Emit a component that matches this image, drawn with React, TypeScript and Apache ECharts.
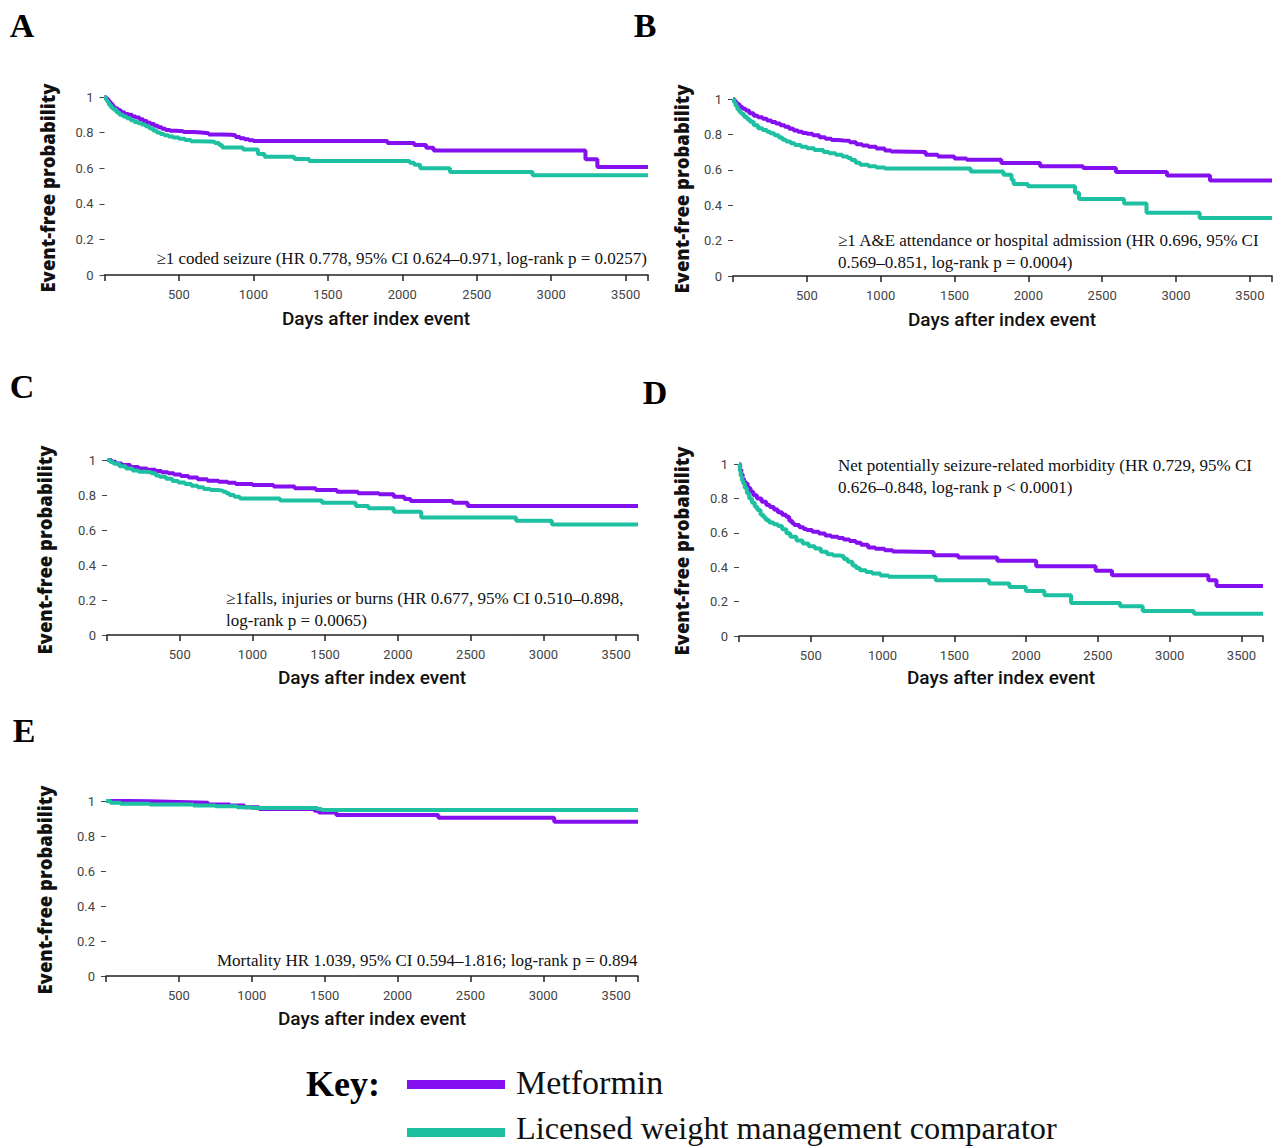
import React, { useEffect, useRef } from "react";
import * as echarts from "echarts";

const DAYS_MAX = 3650;
const X_TICKS = [0, 500, 1000, 1500, 2000, 2500, 3000, 3500, 3650];
const X_LABELS = [500, 1000, 1500, 2000, 2500, 3000, 3500];
const Y_TICKS = [0, 0.2, 0.4, 0.6, 0.8, 1];

const SERIES_NAMES = ["Metformin", "Licensed weight management comparator"];
const COLORS = ["#8410f0", "#1ec0a2"];

// Panel A: >=1 coded seizure
const A_MET = [[0,1],[10,0.99],[25,0.975],[40,0.96],[55,0.945],[70,0.935],[90,0.925],[110,0.915],[135,0.905],[160,0.9],[185,0.89],[210,0.885],[235,0.875],[260,0.865],[285,0.855],[310,0.848],[335,0.838],[360,0.83],[385,0.822],[410,0.815],[440,0.81],[480,0.807],[530,0.803],[600,0.8],[650,0.797],[700,0.79],[780,0.788],[850,0.785],[880,0.775],[910,0.768],[940,0.762],[970,0.757],[1000,0.753],[1900,0.742],[2080,0.73],[2160,0.715],[2210,0.7],[3230,0.65],[3310,0.607],[3650,0.607]];
const A_CMP = [[0,1],[10,0.985],[20,0.97],[30,0.955],[45,0.94],[60,0.93],[80,0.915],[100,0.9],[125,0.89],[150,0.88],[175,0.87],[200,0.86],[225,0.852],[250,0.845],[275,0.835],[300,0.825],[325,0.812],[350,0.8],[375,0.792],[400,0.785],[430,0.778],[460,0.772],[500,0.765],[540,0.758],[580,0.752],[620,0.75],[700,0.748],[740,0.742],[770,0.73],[790,0.716],[930,0.705],[1030,0.68],[1075,0.664],[1275,0.652],[1375,0.64],[2050,0.63],[2080,0.62],[2120,0.6],[2320,0.578],[2875,0.561],[3650,0.561]];

// Panel B: >=1 A&E attendance or hospital admission
const B_MET = [[0,1],[10,0.985],[25,0.97],[45,0.955],[65,0.945],[86,0.935],[110,0.92],[140,0.905],[169,0.897],[200,0.888],[230,0.878],[260,0.87],[290,0.862],[320,0.852],[350,0.843],[380,0.832],[410,0.822],[440,0.815],[470,0.808],[501,0.803],[540,0.795],[584,0.784],[625,0.776],[667,0.769],[710,0.766],[750,0.764],[790,0.755],[834,0.745],[875,0.737],[917,0.73],[970,0.72],[1028,0.709],[1070,0.703],[1111,0.7],[1305,0.685],[1388,0.675],[1499,0.664],[1582,0.657],[1817,0.638],[2080,0.62],[2371,0.61],[2593,0.587],[2939,0.568],[3230,0.54],[3650,0.54]];
const B_CMP = [[0,1],[8,0.98],[18,0.96],[30,0.94],[45,0.925],[58,0.915],[75,0.9],[95,0.885],[114,0.872],[140,0.852],[169,0.835],[200,0.825],[230,0.815],[252,0.807],[280,0.795],[310,0.782],[335,0.77],[360,0.76],[390,0.75],[418,0.74],[460,0.73],[501,0.722],[550,0.712],[612,0.7],[650,0.693],[695,0.685],[740,0.675],[778,0.666],[800,0.655],[830,0.64],[861,0.628],[917,0.62],[970,0.613],[1028,0.608],[1609,0.591],[1831,0.572],[1886,0.544],[1900,0.52],[1997,0.507],[2316,0.47],[2343,0.435],[2648,0.409],[2800,0.357],[3160,0.328],[3650,0.328]];

// Panel C: >=1 falls, injuries or burns
const C_MET = [[0,1],[30,0.99],[60,0.98],[101,0.971],[160,0.96],[217,0.952],[275,0.945],[333,0.937],[375,0.93],[420,0.924],[460,0.917],[507,0.909],[560,0.9],[623,0.89],[690,0.882],[768,0.876],[830,0.87],[884,0.863],[1000,0.857],[1145,0.848],[1290,0.838],[1435,0.829],[1580,0.819],[1725,0.81],[1870,0.804],[1971,0.79],[2044,0.777],[2087,0.766],[2377,0.756],[2479,0.737],[3650,0.737]];
const C_CMP = [[0,1],[20,0.99],[43,0.98],[85,0.965],[130,0.952],[175,0.94],[217,0.933],[260,0.93],[304,0.924],[335,0.912],[362,0.905],[405,0.893],[449,0.88],[490,0.872],[536,0.863],[580,0.853],[623,0.844],[665,0.835],[710,0.829],[760,0.825],[797,0.819],[820,0.81],[841,0.8],[875,0.79],[913,0.78],[1189,0.768],[1478,0.756],[1710,0.737],[1797,0.724],[1971,0.705],[2160,0.672],[2812,0.653],[3058,0.632],[3650,0.632]];

// Panel D: net potentially seizure-related morbidity
const D_MET = [[0,1],[8,0.97],[16,0.94],[25,0.915],[34,0.9],[43,0.887],[60,0.86],[80,0.838],[100,0.819],[125,0.8],[157,0.78],[190,0.762],[215,0.75],[243,0.736],[270,0.72],[300,0.705],[328,0.693],[350,0.67],[370,0.655],[385,0.645],[420,0.632],[450,0.622],[471,0.616],[510,0.606],[557,0.596],[600,0.585],[642,0.577],[690,0.57],[728,0.561],[770,0.552],[814,0.542],[850,0.53],[899,0.515],[950,0.507],[1014,0.499],[1070,0.492],[1128,0.489],[1356,0.47],[1527,0.456],[1799,0.437],[2070,0.406],[2484,0.379],[2598,0.353],[3269,0.324],[3326,0.291],[3650,0.291]];
const D_CMP = [[0,1],[6,0.96],[12,0.93],[20,0.905],[29,0.887],[40,0.86],[55,0.83],[71,0.8],[90,0.775],[110,0.752],[128,0.732],[150,0.705],[170,0.69],[186,0.674],[210,0.66],[240,0.65],[271,0.639],[300,0.62],[330,0.598],[357,0.577],[400,0.555],[443,0.538],[485,0.522],[528,0.509],[570,0.49],[614,0.476],[655,0.468],[700,0.464],[730,0.448],[757,0.431],[790,0.41],[815,0.395],[842,0.382],[885,0.372],[928,0.363],[985,0.352],[1042,0.344],[1370,0.324],[1742,0.305],[1884,0.285],[1998,0.262],[2127,0.237],[2313,0.192],[2655,0.173],[2812,0.146],[3169,0.13],[3650,0.13]];

// Panel E: mortality
const E_MET = [[0,1],[150,0.998],[300,0.994],[500,0.99],[700,0.98],[850,0.975],[950,0.965],[1050,0.955],[1430,0.945],[1460,0.935],[1580,0.92],[2280,0.905],[3075,0.882],[3650,0.882]];
const E_CMP = [[0,1],[30,0.99],[100,0.985],[300,0.98],[600,0.975],[750,0.97],[900,0.965],[1000,0.96],[1450,0.955],[1480,0.948],[3650,0.948]];

const PANEL_DATA = [[A_MET, A_CMP], [B_MET, B_CMP], [C_MET, C_CMP], [D_MET, D_CMP], [E_MET, E_CMP]];
const PANEL_LETTERS = ["A", "B", "C", "D", "E"];

const ANNOTATIONS = [
  ["\u22651 coded seizure (HR 0.778, 95% CI 0.624\u20130.971, log-rank p = 0.0257)"],
  ["\u22651 A&E attendance or hospital admission (HR 0.696, 95% CI", "0.569\u20130.851, log-rank p = 0.0004)"],
  ["\u22651falls, injuries or burns (HR 0.677, 95% CI 0.510\u20130.898,", "log-rank p = 0.0065)"],
  ["Net potentially seizure-related morbidity (HR 0.729, 95% CI", "0.626\u20130.848, log-rank p < 0.0001)"],
  ["Mortality HR 1.039, 95% CI 0.594\u20131.816; log-rank p = 0.894"],
];

const Y_TITLE = "Event-free probability";
const X_TITLE = "Days after index event";

// layout (page pixels)
const LAYOUT = [
  { left: 104.5, top: 97, width: 543.5, height: 178, letter: [22, 25], ytitle: [47, 188], xtitle: [376, 318], ann: { x: 647, y: 258, align: "right" } },
  { left: 733, top: 99, width: 539, height: 177, letter: [645, 25], ytitle: [681, 189], xtitle: [1002, 319], ann: { x: 838, y: 240, align: "left" } },
  { left: 107, top: 460, width: 531, height: 175, letter: [22, 386], ytitle: [44, 550], xtitle: [372, 677], ann: { x: 226, y: 598, align: "left" } },
  { left: 739, top: 464, width: 524, height: 172, letter: [655, 392], ytitle: [681, 551], xtitle: [1001, 677], ann: { x: 838, y: 465, align: "left" } },
  { left: 106, top: 801, width: 532, height: 175, letter: [24, 730], ytitle: [44, 890], xtitle: [372, 1018], ann: { x: 217, y: 960, align: "left" } },
];

const SERIF = "'Liberation Serif', 'Times New Roman', serif";
const SANS = "Roboto, 'Noto Sans', sans-serif";

export default function App() {
  const ref = useRef<HTMLDivElement>(null);
  useEffect(() => {
    document.body.style.margin = "0";
    if (!ref.current) return;
    const chart = echarts.init(ref.current, null, { renderer: "svg" });

    const grid: any[] = [];
    const xAxis: any[] = [];
    const yAxis: any[] = [];
    const series: any[] = [];
    const graphic: any[] = [];

    LAYOUT.forEach((L, i) => {
      grid.push({ left: L.left, top: L.top, width: L.width, height: L.height, containLabel: false });
      xAxis.push({
        type: "value", gridIndex: i, min: 0, max: DAYS_MAX, interval: 500, offset: 4,
        axisLine: { show: true, lineStyle: { color: "#222", width: 1.5 } },
        axisTick: { show: true, length: 6, lineStyle: { color: "#222", width: 1.5 }, customValues: X_TICKS },
        axisLabel: { show: true, color: "#444", fontSize: 13, fontFamily: SANS, margin: 9, customValues: X_LABELS, formatter: (v: number) => String(v) },
        splitLine: { show: false },
      });
      yAxis.push({
        type: "value", gridIndex: i, min: 0, max: 1, interval: 0.2, offset: 2,
        axisLine: { show: false },
        axisTick: { show: true, length: 5, lineStyle: { color: "#444", width: 1 }, customValues: Y_TICKS },
        axisLabel: { show: true, color: "#444", fontSize: 13, fontFamily: SANS, margin: 9, customValues: Y_TICKS, formatter: (v: number) => String(v) },
        splitLine: { show: false },
      });
      PANEL_DATA[i].forEach((d, k) => {
        series.push({
          type: "line", name: SERIES_NAMES[k], xAxisIndex: i, yAxisIndex: i, data: d, step: "end",
          showSymbol: false, symbol: "none", lineStyle: { color: COLORS[k], width: 4 }, z: 2 + k,
        });
      });
      graphic.push({ type: "text", x: L.letter[0], y: L.letter[1], style: { text: PANEL_LETTERS[i], font: `bold 34px ${SERIF}`, fill: "#000", textAlign: "center", textVerticalAlign: "middle" } });
      graphic.push({ type: "text", x: L.ytitle[0], y: L.ytitle[1], rotation: Math.PI / 2, style: { text: Y_TITLE, font: `800 18.5px 'Open Sans', sans-serif`, fill: "#111", textAlign: "center", textVerticalAlign: "middle" } });
      graphic.push({ type: "text", x: L.xtitle[0], y: L.xtitle[1], style: { text: X_TITLE, font: `500 19px ${SANS}`, fill: "#111", textAlign: "center", textVerticalAlign: "middle" } });
      ANNOTATIONS[i].forEach((line, j) => {
        graphic.push({ type: "text", x: L.ann.x, y: L.ann.y + j * 22, style: { text: line, font: `17px ${SERIF}`, fill: "#111", textAlign: L.ann.align, textVerticalAlign: "middle" } });
      });
    });

    // key
    graphic.push({ type: "text", x: 306, y: 1084, style: { text: "Key:", font: `bold 36px ${SERIF}`, fill: "#000", textAlign: "left", textVerticalAlign: "middle" } });
    graphic.push({ type: "rect", shape: { x: 407, y: 1080, width: 98, height: 9 }, style: { fill: COLORS[0] } });
    graphic.push({ type: "rect", shape: { x: 407, y: 1128, width: 98, height: 9 }, style: { fill: COLORS[1] } });
    graphic.push({ type: "text", x: 516, y: 1082, style: { text: SERIES_NAMES[0], font: `34px ${SERIF}`, fill: "#111", textAlign: "left", textVerticalAlign: "middle" } });
    graphic.push({ type: "text", x: 516, y: 1128, style: { text: SERIES_NAMES[1], font: `32.3px ${SERIF}`, fill: "#111", textAlign: "left", textVerticalAlign: "middle" } });

    chart.setOption({ animation: false, backgroundColor: "#fff", grid, xAxis, yAxis, series, graphic });
    return () => chart.dispose();
  }, []);
  return <div ref={ref} style={{ width: 1280, height: 1147 }} />;
}
